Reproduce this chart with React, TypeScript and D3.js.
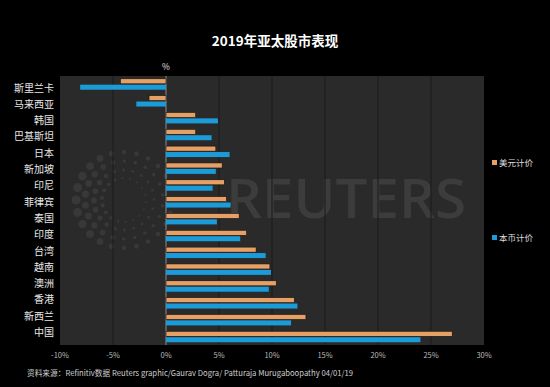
import React from "react";
import * as d3 from "d3";

const categories = ["斯里兰卡","马来西亚","韩国","巴基斯坦","日本","新加坡","印尼","菲律宾","泰国","印度","台湾","越南","澳洲","香港","新西兰","中国"];
const usdValues = [-4.3, -1.6, 2.8, 2.8, 4.7, 5.3, 5.5, 5.7, 6.9, 7.6, 8.5, 9.8, 10.4, 12.1, 13.2, 27.0];
const localValues = [-8.1, -2.8, 4.9, 4.3, 6.0, 4.7, 4.4, 6.1, 4.8, 7.0, 9.4, 9.9, 9.7, 12.4, 11.8, 24.0];
const xTicks = [-10, -5, 0, 5, 10, 15, 20, 25, 30];
const seriesNames = ["美元计价", "本币计价"];

const W = 550, H = 387;
const FONT = "'Noto Sans CJK SC', 'Noto Sans', sans-serif";
const ORANGE = "#e6a066";
const BLUE = "#1b9bd7";

export default function App() {
  const x = d3.scaleLinear().domain([-10, 30]).range([60, 484]);
  const plotTop = 76, plotBottom = 345;
  const y = d3.scaleBand<string>().domain(categories).range([plotTop, plotBottom]).paddingInner(0.35).paddingOuter(0.165);
  const sub = d3.scaleBand<number>().domain([0, 1]).range([0, y.bandwidth()]).paddingInner(0.15);
  const yLabel = d3.scalePoint<string>().domain(categories).range([88, 332.5]);

  // watermark logo dots (decoration)
  const cx = 124, cy = 200;
  const rings = [
    { r: 48, n: 24, s: 3.8 },
    { r: 39, n: 22, s: 3.0 },
    { r: 30, n: 20, s: 2.4 },
    { r: 22, n: 18, s: 1.8 },
  ];
  const dots: { x: number; y: number; r: number }[] = [];
  rings.forEach((ring, ri) => {
    for (let i = 0; i < ring.n; i++) {
      const a = (i / ring.n) * Math.PI * 2 + ri * 0.15;
      const sizeMod = 0.6 + 0.6 * Math.max(0, -Math.cos(a));
      dots.push({ x: cx + ring.r * Math.cos(a), y: cy + ring.r * Math.sin(a), r: ring.s * sizeMod });
    }
  });

  return (
    <svg width={W} height={H} style={{ position: "absolute", left: 0, top: 0, background: "#000" }} fontFamily={FONT}>
      <rect x={0} y={0} width={W} height={H} fill="#000" />
      <text x={275} y={46} textAnchor="middle" fill="#fff" fontSize={13.5} fontWeight="bold">2019年亚太股市表现</text>
      <text x={x(0)} y={70} textAnchor="middle" fill="#e0e0e0" fontSize={8.5}>%</text>

      <rect x={x(-10)} y={plotTop} width={x(30) - x(-10)} height={plotBottom - plotTop} fill="#2a2a2a" />
      {/* watermark */}
      <g fill="#383838">
        {dots.map((d, i) => <circle key={i} cx={d.x} cy={d.y} r={d.r} />)}
      </g>
      <text x={226} y={218} fill="#3c3c3c" fontSize={54} fontFamily="'Open Sans', sans-serif" fontWeight={600} textLength={240} lengthAdjust="spacingAndGlyphs">REUTERS</text>

      {xTicks.slice(1, -1).map(t => (
        <line key={t} x1={x(t)} x2={x(t)} y1={plotTop} y2={plotBottom} stroke={t === 0 ? "#8a8a8a" : "#1a1a1a"} strokeWidth={1} />
      ))}

      {categories.map((c, i) => {
        const y0 = y(c)!;
        const u = usdValues[i], l = localValues[i];
        return (
          <g key={c}>
            <rect x={Math.min(x(0), x(u))} y={y0 + sub(0)!} width={Math.abs(x(u) - x(0))} height={sub.bandwidth()} fill={ORANGE} stroke="#111" strokeWidth={0.6} />
            <rect x={Math.min(x(0), x(l))} y={y0 + sub(1)!} width={Math.abs(x(l) - x(0))} height={sub.bandwidth()} fill={BLUE} />
            <text x={54} y={yLabel(c)! + 3.5} textAnchor="end" fill="#e8e8e8" fontSize={10}>{c}</text>
          </g>
        );
      })}

      {xTicks.map(t => (
        <text key={t} x={x(t)} y={358} textAnchor="middle" fill="#bbb" fontSize={7.5}>{t}%</text>
      ))}

      <text x={27} y={376} fill="#cfcfcf" fontSize={8} textLength={326} lengthAdjust="spacingAndGlyphs">资料来源：Refinitiv数据   Reuters graphic/Gaurav Dogra/ Patturaja Murugaboopathy 04/01/19</text>

      <rect x={492} y={160} width={5} height={5} fill={ORANGE} />
      <text x={499} y={166} fill="#ddd" fontSize={8.5}>{seriesNames[0]}</text>
      <rect x={492} y={235} width={5} height={5} fill={BLUE} />
      <text x={499} y={241} fill="#ddd" fontSize={8.5}>{seriesNames[1]}</text>
    </svg>
  );
}
